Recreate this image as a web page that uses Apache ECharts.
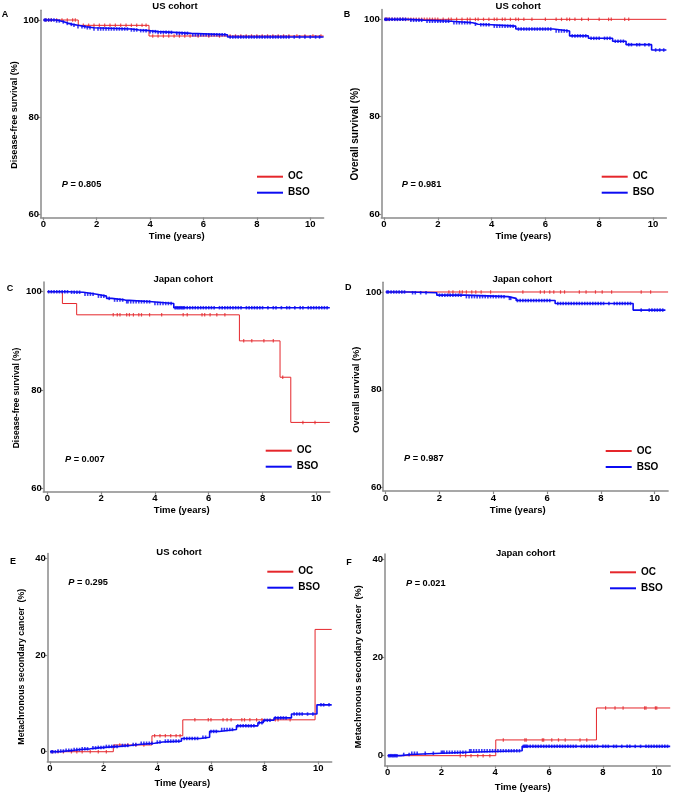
<!DOCTYPE html>
<html><head><meta charset="utf-8">
<script src="https://cdn.jsdelivr.net/npm/echarts@6/dist/echarts.min.js"></script>
<style>html,body{margin:0;padding:0;background:#fff}#c{width:675px;height:795px}</style>
</head><body><div id="c"></div>
<script>
// ---------- DATA ----------
// Panel A: US cohort, disease-free survival (%)
const aOcT = [0, 1.31, 3.96, 10.5];
const aOcV = [100, 98.9, 96.7, 96.7];
const aBsoT = [0, 0.5, 0.65, 0.8, 0.95, 1.1, 1.3, 1.6, 1.9, 3.3, 3.6, 4.0, 4.3, 4.9, 5.55, 6.9, 10.5];
const aBsoV = [100, 99.8, 99.6, 99.3, 99.1, 98.9, 98.6, 98.4, 98.15, 97.95, 97.8, 97.6, 97.45, 97.25, 96.95, 96.5, 96.5];
const aOcCens = [0.1,0.2,0.3,0.5,0.7,0.9,1.1,1.2,1.5,1.7,1.9,2.1,2.3,2.5,2.7,2.9,3.1,3.3,3.5,3.7,3.85,4.1,4.3,4.5,4.7,4.9,5.1,5.3,5.5,5.8,6.2,6.6,7.0,7.2,7.4,7.6,7.8,8.0,8.2,8.4,8.6,8.8,9.0,9.2,9.5,9.8,10.1,10.4];
const aBsoCens = [0.05,0.1,0.2,0.3,0.4,0.5,0.6,0.75,0.9,1.05,1.15,1.3,1.45,1.55,1.65,1.75,1.9,2.05,2.15,2.25,2.35,2.45,2.55,2.65,2.75,2.85,2.95,3.05,3.15,3.3,3.4,3.5,3.65,3.75,3.85,4.0,4.1,4.2,4.3,4.4,4.5,4.6,4.7,4.8,5.0,5.1,5.2,5.3,5.4,5.6,5.7,5.8,5.9,6.0,6.1,6.2,6.3,6.4,6.5,6.6,6.7,6.8,7.0,7.1,7.2,7.3,7.4,7.5,7.6,7.7,7.8,7.9,8.0,8.1,8.2,8.3,8.4,8.5,8.6,8.7,8.8,8.9,9.0,9.1,9.2,9.4,9.6,9.8,10.0,10.2,10.35];
// Panel B: US cohort, overall survival (%)
const bOcT = [0, 10.5];
const bOcV = [100, 100];
const bBsoT = [0, 0.9, 1.5, 2.5, 3.3, 3.5, 4.0, 4.9, 6.3, 6.9, 7.6, 8.5, 9.0, 9.95, 10.5];
const bBsoV = [100, 99.8, 99.6, 99.3, 99.0, 98.9, 98.6, 98.0, 97.6, 96.6, 96.1, 95.5, 94.8, 93.7, 93.7];
const bOcCens = [0.05,0.1,0.15,0.2,0.3,0.4,0.5,0.6,0.7,0.8,0.9,1.0,1.1,1.2,1.3,1.4,1.5,1.6,1.7,1.8,1.9,2.0,2.2,2.4,2.5,2.7,2.9,3.1,3.2,3.4,3.5,3.7,3.9,4.1,4.2,4.4,4.5,4.7,4.9,5.0,5.2,5.5,6.0,6.4,6.6,6.8,6.9,7.1,7.35,7.6,8.0,8.35,8.45,8.95,9.1];
const bBsoCens = [0.05,0.1,0.2,0.3,0.4,0.5,0.6,0.7,0.8,1.0,1.1,1.2,1.3,1.4,1.6,1.7,1.8,1.9,2.0,2.1,2.2,2.3,2.4,2.6,2.7,2.8,2.9,3.0,3.1,3.2,3.4,3.6,3.7,3.8,3.9,4.1,4.2,4.3,4.4,4.5,4.6,4.7,4.8,5.0,5.1,5.2,5.3,5.4,5.5,5.6,5.7,5.8,5.9,6.0,6.1,6.2,6.4,6.5,6.6,6.7,6.8,7.0,7.1,7.2,7.3,7.4,7.5,7.7,7.8,7.9,8.0,8.2,8.3,8.4,8.6,8.7,8.8,8.9,9.1,9.2,9.4,9.5,9.7,9.85,10.1,10.25,10.4];
// Panel C: Japan cohort, disease-free survival (%)
const cOcT = [0, 0.56, 1.09, 7.14, 8.65, 9.05, 10.5];
const cOcV = [100, 97.6, 95.3, 90.0, 82.6, 73.4, 73.4];
const cBsoT = [0, 0.78, 1.34, 1.84, 2.2, 2.4, 2.9, 3.9, 4.7, 10.5];
const cBsoV = [100, 99.9, 99.5, 99.1, 98.65, 98.3, 97.95, 97.6, 96.75, 96.75];
const cOcCens = [2.45,2.6,2.7,2.95,3.05,3.2,3.4,3.5,3.8,4.25,5.05,5.2,5.75,5.85,6.05,6.3,6.6,7.3,7.6,8.05,8.4,8.75,9.5,9.95];
const cBsoCens = [0.05,0.15,0.25,0.35,0.45,0.55,0.65,0.75,0.9,1.0,1.1,1.2,1.4,1.5,1.6,1.7,1.9,2.0,2.1,2.3,2.5,2.6,2.7,2.8,2.95,3.0,3.1,3.2,3.3,3.4,3.5,3.6,3.7,3.8,4.0,4.1,4.2,4.3,4.4,4.5,4.6,4.75,4.8,4.85,4.9,4.95,5.0,5.05,5.1,5.2,5.3,5.4,5.5,5.6,5.7,5.8,5.9,6.0,6.1,6.2,6.4,6.5,6.6,6.7,6.8,6.9,7.0,7.1,7.2,7.4,7.5,7.6,7.7,7.8,7.9,8.0,8.2,8.4,8.5,8.7,8.9,9.0,9.2,9.4,9.5,9.7,9.8,9.9,10.0,10.1,10.2,10.3,10.4];
// Panel D: Japan cohort, overall survival (%)
const dOcT = [0, 10.5];
const dOcV = [100, 100];
const dBsoT = [0, 0.85, 1.9, 2.95, 4.55, 4.85, 6.3, 9.2, 10.4];
const dBsoV = [100, 99.85, 99.35, 99.05, 98.7, 98.25, 97.65, 96.3, 96.3];
const dOcCens = [2.35,2.5,2.75,2.85,3.0,3.2,3.35,3.55,3.9,5.1,5.75,5.9,6.1,6.25,6.5,6.65,7.2,7.45,7.8,8.05,8.4,9.5,9.85];
const dBsoCens = [0.05,0.1,0.2,0.3,0.4,0.5,0.6,0.7,1.0,1.1,1.3,1.5,2.0,2.1,2.2,2.3,2.4,2.5,2.6,2.7,2.8,3.0,3.1,3.2,3.3,3.4,3.5,3.6,3.7,3.8,3.9,4.0,4.1,4.2,4.3,4.4,4.6,4.65,4.9,5.0,5.1,5.2,5.3,5.4,5.5,5.6,5.7,5.8,5.9,6.0,6.1,6.4,6.5,6.6,6.7,6.8,6.9,7.0,7.1,7.2,7.3,7.4,7.5,7.6,7.7,7.8,7.9,8.0,8.1,8.3,8.5,8.6,8.7,8.8,8.9,9.0,9.1,9.5,9.8,9.9,10.0,10.1,10.2,10.3];
// Panel E: US cohort, metachronous secondary cancer (%)
const eOcT = [0, 2.36, 3.8, 4.95, 9.88, 10.5];
const eOcV = [0, 1.4, 3.3, 6.6, 25.3, 25.3];
const eBsoT = [0, 0.3, 0.6, 0.9, 1.15, 1.5, 1.8, 2.05, 2.6, 3.0, 3.3, 3.9, 4.2, 4.9, 5.6, 5.95, 6.3, 6.95, 7.75, 7.95, 8.35, 9.0, 9.95, 10.5];
const eBsoV = [0, 0.15, 0.3, 0.45, 0.6, 0.8, 0.9, 1.1, 1.3, 1.5, 1.75, 2.0, 2.2, 2.75, 3.0, 4.2, 4.6, 5.35, 6.0, 6.5, 7.0, 7.8, 9.7, 9.7];
const eOcCens = [0.1,0.3,0.5,0.8,1.0,1.2,1.5,1.8,2.1,2.6,2.9,3.2,3.5,3.9,4.1,4.3,4.5,4.7,4.85,5.4,5.9,6.0,6.45,6.6,6.75,7.15,7.25,7.45,7.7,7.9,8.4,8.5,8.95];
const eBsoCens = [0.05,0.1,0.2,0.3,0.4,0.5,0.6,0.7,0.8,0.9,1.0,1.1,1.2,1.3,1.4,1.6,1.7,1.8,1.9,2.0,2.1,2.2,2.3,2.4,2.5,2.7,2.8,2.9,3.1,3.2,3.4,3.5,3.6,3.7,3.8,4.0,4.1,4.3,4.4,4.5,4.6,4.7,4.8,5.0,5.1,5.2,5.3,5.4,5.5,5.7,5.8,6.0,6.1,6.2,6.4,6.5,6.6,6.7,6.8,7.0,7.1,7.2,7.3,7.4,7.5,7.6,7.8,7.9,8.0,8.1,8.2,8.4,8.5,8.6,8.7,8.8,9.1,9.2,9.3,9.4,9.6,9.8,10.1,10.2,10.4];
// Panel F: Japan cohort, metachronous secondary cancer (%)
const fOcT = [0, 4.02, 7.76, 10.5];
const fOcV = [0, 3.2, 9.7, 9.7];
const fBsoT = [0, 0.5, 0.85, 2.0, 3.0, 5.0, 10.5];
const fBsoV = [0, 0.25, 0.5, 0.7, 1.0, 1.9, 1.9];
const fOcCens = [2.7,2.9,3.1,3.35,3.55,3.8,4.3,5.1,5.15,5.75,5.8,6.1,6.35,6.6,7.15,7.4,8.1,8.45,8.75,9.55,9.6,9.95,10.0];
const fBsoCens = [0.05,0.1,0.15,0.2,0.25,0.3,0.35,0.6,0.8,0.9,1.0,1.1,1.4,1.7,2.0,2.05,2.1,2.2,2.3,2.4,2.5,2.6,2.7,2.8,2.9,3.05,3.1,3.2,3.3,3.4,3.5,3.6,3.7,3.8,3.9,4.0,4.1,4.2,4.3,4.4,4.5,4.6,4.7,4.8,4.9,5.05,5.1,5.15,5.2,5.3,5.4,5.5,5.6,5.7,5.8,5.9,6.0,6.1,6.2,6.3,6.4,6.5,6.6,6.7,6.8,6.9,7.0,7.2,7.3,7.4,7.5,7.6,7.7,7.8,8.0,8.1,8.2,8.4,8.5,8.7,8.9,9.0,9.2,9.4,9.6,9.7,9.8,9.9,10.0,10.1,10.2,10.3,10.4];

// Text
const panelLetters = ['A','B','C','D','E','F'];
const panelTitles = ['US cohort','US cohort','Japan cohort','Japan cohort','US cohort','Japan cohort'];
const yTitles = ['Disease-free survival (%)','Overall survival (%)','Disease-free survival (%)','Overall survival (%)','Metachronous secondary cancer  (%)','Metachronous secondary cancer  (%)'];
const xTitle = 'Time (years)';
const pValues = ['0.805','0.981','0.007','0.987','0.295','0.021'];
const seriesNames = ['OC','BSO'];
const xTicks = [0, 2, 4, 6, 8, 10];
const yTicksSurv = [60, 80, 100];
const yTicksCum = [0, 20, 40];

// ---------- LAYOUT ----------
const RED = '#e5262b', BLUE = '#0b0bf2', AX = '#8a8a8a';
const FONT = "'Liberation Sans', Arial, sans-serif";
const layout = [
  {left:40.6, top:10.3, width:283, height:207.1, xmin:-0.1, ymin:59.3, ymax:102, yt:yTicksSurv,
   letter:[5,15], title:[175,6], ytl:[14.5,115], yts:9.1, xtl:[176.7,236], p:[61.7,184], leg:[257,170.7]},
  {left:381.3, top:9.6, width:285.1, height:207.8, xmin:-0.1, ymin:59.3, ymax:102, yt:yTicksSurv,
   letter:[347,15], title:[518.3,6], ytl:[355,134], yts:10, xtl:[523.3,236], p:[401.7,184], leg:[601.7,170.7]},
  {left:43.3, top:281.9, width:286.5, height:209.8, xmin:-0.15, ymin:59.3, ymax:102, yt:yTicksSurv,
   letter:[10,288.3], title:[183.3,279], ytl:[17,398], yts:8.5, xtl:[181.7,510], p:[65,459], leg:[265.7,444.7]},
  {left:383.0, top:282.2, width:285.1, height:208.9, xmin:-0.1, ymin:59.3, ymax:102, yt:yTicksSurv,
   letter:[348.3,287.7], title:[522.3,279], ytl:[356.7,389.7], yts:9.3, xtl:[517.7,510], p:[404,458.3], leg:[605.7,445]},
  {left:47.3, top:553.5, width:284.4, height:207.9, xmin:-0.1, ymin:-2, ymax:41, yt:yTicksCum,
   letter:[13,561.7], title:[179,552], ytl:[21.7,666.7], yts:8.8, xtl:[182.3,783], p:[68.3,582.3], leg:[267.3,565.7]},
  {left:384.6, top:554.1, width:285.6, height:211.4, xmin:-0.11, ymin:-2, ymax:41, yt:yTicksCum,
   letter:[349,562.3], title:[525.7,553], ytl:[358.7,666.7], yts:9.2, xtl:[522.7,787.7], p:[406,583.3], leg:[610,566.3]}
];
const panelData = [
  [aOcT,aOcV,aOcCens,aBsoT,aBsoV,aBsoCens],
  [bOcT,bOcV,bOcCens,bBsoT,bBsoV,bBsoCens],
  [cOcT,cOcV,cOcCens,cBsoT,cBsoV,cBsoCens],
  [dOcT,dOcV,dOcCens,dBsoT,dBsoV,dBsoCens],
  [eOcT,eOcV,eOcCens,eBsoT,eBsoV,eBsoCens],
  [fOcT,fOcV,fOcCens,fBsoT,fBsoV,fBsoCens]
];

function stepData(t, v) { return t.map((x, i) => [x, v[i]]); }
function censorData(c, t, v) {
  return c.map(ct => { let y = v[0]; for (let i = 0; i < t.length; i++) if (t[i] <= ct) y = v[i]; return [ct, y]; });
}

const grid = [], xAxis = [], yAxis = [], series = [], legend = [], graphic = [];
layout.forEach((L, i) => {
  grid.push({left:L.left, top:L.top, width:L.width, height:L.height, containLabel:false});
  const axLine = {show:true, onZero:false, lineStyle:{color:AX, width:1.5}};
  const lbl = {color:'#000', fontWeight:'bold', fontSize:9.5, fontFamily:FONT};
  xAxis.push({type:'value', gridIndex:i, min:L.xmin, max:10.5, axisLine:axLine,
    axisTick:{show:true, customValues:xTicks, length:3, lineStyle:{color:AX, width:1.2}},
    axisLabel:Object.assign({customValues:xTicks, margin:2}, lbl), splitLine:{show:false}});
  yAxis.push({type:'value', gridIndex:i, min:L.ymin, max:L.ymax, axisLine:axLine,
    axisTick:{show:true, customValues:L.yt, length:3, lineStyle:{color:AX, width:1.2}},
    axisLabel:Object.assign({customValues:L.yt, margin:1.5}, lbl), splitLine:{show:false}});
  const d = panelData[i];
  series.push({type:'line', name:'OC', xAxisIndex:i, yAxisIndex:i, step:'end', showSymbol:false,
    data:stepData(d[0], d[1]), lineStyle:{color:RED, width:1}, itemStyle:{color:RED}, z:2, animation:false});
  series.push({type:'scatter', name:'OC censored', xAxisIndex:i, yAxisIndex:i, symbol:'rect', symbolSize:[1.2,3.5],
    data:censorData(d[2], d[0], d[1]), itemStyle:{color:RED}, z:3, animation:false});
  series.push({type:'line', name:'BSO', xAxisIndex:i, yAxisIndex:i, step:'end', showSymbol:false,
    data:stepData(d[3], d[4]), lineStyle:{color:BLUE, width:1.6}, itemStyle:{color:BLUE}, z:4, animation:false});
  series.push({type:'scatter', name:'BSO censored', xAxisIndex:i, yAxisIndex:i, symbol:'rect', symbolSize:[1.6,3.5],
    data:censorData(d[5], d[3], d[4]), itemStyle:{color:BLUE}, z:5, animation:false});
  legend.push({data:seriesNames, orient:'vertical', left:L.leg[0], top:L.leg[1], padding:0, itemGap:4,
    itemWidth:26, itemHeight:2, icon:'rect', selectedMode:false,
    textStyle:{color:'#000', fontWeight:'bold', fontSize:10, fontFamily:FONT, lineHeight:12}});
  const tstyle = (txt, sz) => ({text:txt, fill:'#000', font:'bold ' + sz + 'px ' + FONT, align:'center', verticalAlign:'middle'});
  graphic.push({type:'text', x:L.letter[0], y:L.letter[1], style:tstyle(panelLetters[i], 9)});
  graphic.push({type:'text', x:L.title[0], y:L.title[1], style:tstyle(panelTitles[i], 9.5)});
  graphic.push({type:'text', x:L.ytl[0], y:L.ytl[1], rotation:Math.PI/2, style:tstyle(yTitles[i], L.yts)});
  graphic.push({type:'text', x:L.xtl[0], y:L.xtl[1], style:tstyle(xTitle, 9.5)});
  graphic.push({type:'text', x:L.p[0], y:L.p[1], style:{text:'{i|P} = ' + pValues[i], fill:'#000',
    font:'bold 9.2px ' + FONT, align:'left', verticalAlign:'middle',
    rich:{i:{fontStyle:'italic', fontWeight:'bold', fontSize:9.2, fontFamily:FONT, fill:'#000'}}}});
});

const chart = echarts.init(document.getElementById('c'), null, {renderer:'canvas'});
chart.setOption({backgroundColor:'#fff', animation:false, grid, xAxis, yAxis, series, legend, graphic});
</script></body></html>
